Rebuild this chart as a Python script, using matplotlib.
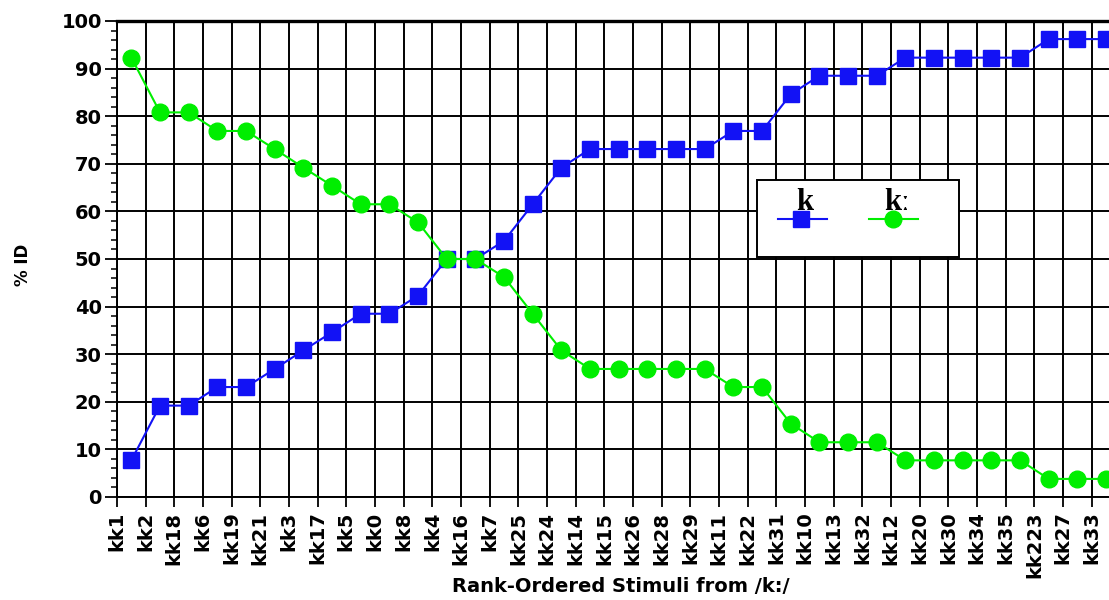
import matplotlib
matplotlib.use("Agg")
from matplotlib import pyplot as plt
from matplotlib.patches import Rectangle
from matplotlib.lines import Line2D
import numpy as np

stimuli = ["kk1", "kk2", "kk18", "kk6", "kk19", "kk21", "kk3", "kk17", "kk5", "kk0",
           "kk8", "kk4", "kk16", "kk7", "kk25", "kk24", "kk14", "kk15", "kk26", "kk28",
           "kk29", "kk11", "kk22", "kk31", "kk10", "kk13", "kk32", "kk12", "kk20", "kk30",
           "kk34", "kk35", "kk223", "kk27", "kk33"]

# % identified as /k/
pct_k = [7.7, 19.2, 19.2, 23.1, 23.1, 26.9, 30.8, 34.6, 38.5, 38.5,
         42.3, 50.0, 50.0, 53.8, 61.5, 69.2, 73.1, 73.1, 73.1, 73.1,
         73.1, 76.9, 76.9, 84.6, 88.5, 88.5, 88.5, 92.3, 92.3, 92.3,
         92.3, 92.3, 96.2, 96.2, 96.2]

# % identified as /k:/
pct_kk = [92.3, 80.8, 80.8, 76.9, 76.9, 73.1, 69.2, 65.4, 61.5, 61.5,
          57.7, 50.0, 50.0, 46.2, 38.5, 30.8, 26.9, 26.9, 26.9, 26.9,
          26.9, 23.1, 23.1, 15.4, 11.5, 11.5, 11.5, 7.7, 7.7, 7.7,
          7.7, 7.7, 3.8, 3.8, 3.8]

BLUE = "#1212F5"
GREEN = "#00EE00"

plt.rcParams["font.family"] = ["DejaVu Sans"]

fig = plt.figure(figsize=(11.09, 6.0), dpi=100)
ax = fig.add_axes([117 / 1109, 1 - 497 / 600, 1 - 117 / 1109, (497 - 21) / 600])

x = np.arange(len(stimuli))
ax.plot(x, pct_k, color=BLUE, lw=1.5, marker="s", ms=11.5, mec=BLUE, mfc=BLUE,
        zorder=3)
ax.plot(x, pct_kk, color=GREEN, lw=1.5, marker="o", ms=12, mec=GREEN, mfc=GREEN,
        zorder=3)

ax.set_xlim(-0.5, 34.1)
ax.set_ylim(0, 100)

ax.set_xticks(x - 0.5)
ax.set_xticklabels(stimuli, rotation=90, fontsize=14, fontweight="bold")
ax.set_yticks(np.arange(0, 101, 10))
ax.set_yticks(np.arange(0, 101, 2), minor=True)
ax.tick_params(axis="y", labelsize=14, width=1.3, length=9, direction="out", pad=2)
for lab in ax.get_yticklabels():
    lab.set_fontweight("bold")
ax.tick_params(axis="y", which="minor", length=4.5, width=1.1)
ax.tick_params(axis="x", length=7.5, width=1.3, direction="out", pad=3)

ax.grid(True, which="major", color="black", lw=1.4)
ax.set_axisbelow(True)

for side in ["left", "bottom"]:
    ax.spines[side].set_linewidth(1.4)
ax.spines["top"].set_linewidth(2.4)
ax.spines["right"].set_visible(False)

ax.set_ylabel("% ID", fontsize=12, fontweight="bold")
ax.yaxis.set_label_coords(-0.086, 0.487)
ax.set_xlabel("Rank-Ordered Stimuli from /k:/", fontsize=14, fontweight="bold",
              va="center")
ax.xaxis.set_label_coords(0.508, -0.189)

# legend box drawn by hand: labels sit above the line samples
tr = ax.transAxes
serif = ["Liberation Serif", "DejaVu Serif"]
ax.add_patch(Rectangle((0.645, 0.504), 0.204, 0.162, transform=tr, facecolor="white",
                       edgecolor="black", lw=1.4, zorder=5))
ax.add_line(Line2D([0.666, 0.716], [0.584, 0.584], transform=tr, color=BLUE, lw=1.5,
                   zorder=6))
ax.add_line(Line2D([0.690], [0.584], transform=tr, color=BLUE, marker="s", ms=11.5,
                   zorder=6))
ax.add_line(Line2D([0.758, 0.807], [0.584, 0.584], transform=tr, color=GREEN, lw=1.5,
                   zorder=6))
ax.add_line(Line2D([0.782], [0.584], transform=tr, color=GREEN, marker="o", ms=12,
                   zorder=6))
ax.text(0.693, 0.603, "k", transform=tr, ha="center", va="baseline", fontsize=22,
        fontweight="bold", family=serif, zorder=6)
ax.text(0.786, 0.603, "k\u02d0", transform=tr, ha="center", va="baseline", fontsize=22,
        fontweight="bold", family=serif, zorder=6)

fig.savefig("out.png", dpi=100)
